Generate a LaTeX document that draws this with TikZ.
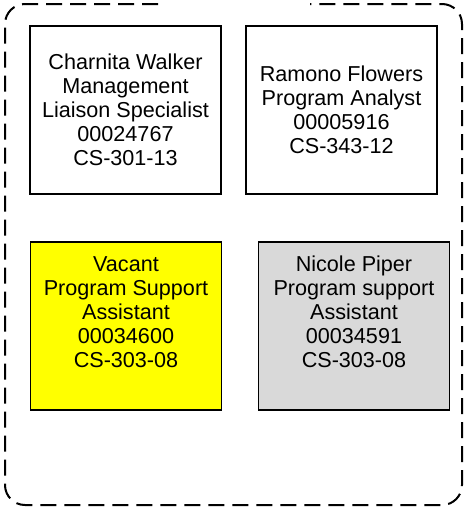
\documentclass[tikz,border=0pt]{standalone}
\usepackage{fontspec}
\setmainfont{Liberation Sans}
\definecolor{cardYellow}{RGB}{255, 255, 0}
\definecolor{cardGray}{RGB}{217, 217, 217}

\begin{document}
\begin{tikzpicture}[x=1pt, y=-1pt,
    card/.style={draw, line width=1.6pt, minimum width=191pt, minimum height=168pt, inner sep=0pt, align=center, font=\fontsize{21.6}{24}\selectfont},
    cardtext/.style={align=center, inner sep=0pt, font=\fontsize{21.6}{24}\selectfont},
    frame/.style={line width=2pt, dash pattern=on 16pt off 8pt, rounded corners=20pt}]
      \useasboundingbox (0,0) rectangle (465,509);

      % Outer dashed group, open on top
      \coordinate (gapL) at (158,4);
      \coordinate (gapR) at (310,4);
      \draw[frame] (gapL) -- (5,4) -- (5,505) -- (462,505) -- (462,4) -- (gapR);

      % Top row
      \node[card] (walker) at (125.5,110) {Charnita Walker\\Management\\Liaison Specialist\\00024767\\CS-301-13};
      \node[card] (flowers) at (341.5,110) {Ramono Flowers\\Program Analyst\\00005916\\CS-343-12};

      % Bottom row: text sits above centre
      \node[card, fill=cardYellow] (vacantbox) at (126,326) {};
      \node[cardtext] (vacant) at ([yshift=14pt]vacantbox.center) {Vacant\\Program Support\\Assistant\\00034600\\CS-303-08};
      \node[card, fill=cardGray] (piperbox) at (354,326) {};
      \node[cardtext] (piper) at ([yshift=14pt]piperbox.center) {Nicole Piper\\Program support\\Assistant\\00034591\\CS-303-08};
    \end{tikzpicture}
\end{document}
